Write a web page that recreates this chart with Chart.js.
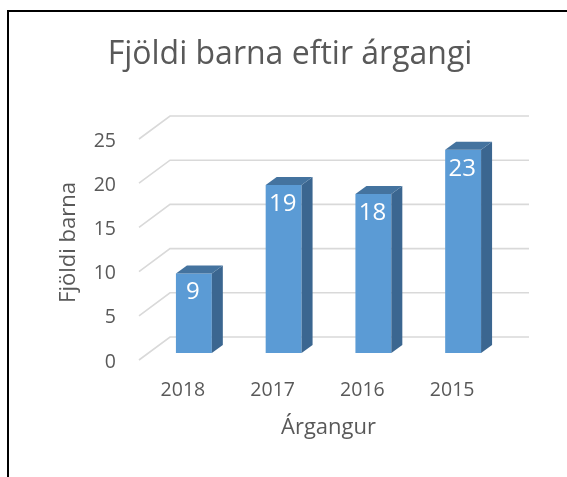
<!DOCTYPE html>
<html>
<head>
<meta charset="utf-8">
<script src="https://cdn.jsdelivr.net/npm/chart.js@4"></script>
<style>
  html, body { margin: 0; padding: 0; background: #fff; }
  #wrap { position: relative; width: 567px; height: 477px; overflow: hidden; }
  #frame { position: absolute; left: 7px; top: 10px; right: -10px; bottom: -10px;
           border-left: 2px solid #000; border-top: 2px solid #000; pointer-events: none; }
</style>
</head>
<body>
<div id="wrap">
  <canvas id="barChart" width="567" height="477"></canvas>
  <div id="frame"></div>
</div>
<script>
const years = ['2018', '2017', '2016', '2015'];
const children = [9, 19, 18, 23];
const yTicks = [0, 5, 10, 15, 20, 25];

const grey = '#595959';
const fontFamily = "'Open Sans', sans-serif";

// depth of the fake 3d boxes
const depthX = 11;
const depthY = 8;

// back wall gridlines + slanted side lines
const gridPlugin = {
  id: 'grid3d',
  beforeDatasetsDraw(chart) {
    const ctx = chart.ctx;
    const y = chart.scales.y;
    ctx.save();
    ctx.strokeStyle = '#d9d9d9';
    ctx.lineWidth = 1.6;
    yTicks.forEach(v => {
      const py = y.getPixelForValue(v);
      ctx.beginPath();
      ctx.moveTo(139, py + 7);
      ctx.lineTo(170, py - 16);
      ctx.lineTo(529, py - 16);
      ctx.stroke();
    });
    ctx.restore();
  }
};

// side + top faces and the value labels
const boxPlugin = {
  id: 'box3d',
  afterDatasetsDraw(chart) {
    const ctx = chart.ctx;
    const meta = chart.getDatasetMeta(0);
    ctx.save();
    meta.data.forEach((bar, i) => {
      const {x, y, base, width} = bar.getProps(['x', 'y', 'base', 'width'], true);
      const left = x - width / 2;
      const right = x + width / 2;

      ctx.fillStyle = '#3b6690';
      ctx.beginPath();
      ctx.moveTo(right, y);
      ctx.lineTo(right + depthX, y - depthY);
      ctx.lineTo(right + depthX, base - depthY);
      ctx.lineTo(right, base);
      ctx.closePath();
      ctx.fill();

      ctx.fillStyle = '#44739f';
      ctx.beginPath();
      ctx.moveTo(left, y);
      ctx.lineTo(left + depthX, y - depthY);
      ctx.lineTo(right + depthX, y - depthY);
      ctx.lineTo(right, y);
      ctx.closePath();
      ctx.fill();

      ctx.fillStyle = '#ffffff';
      ctx.font = '24px ' + fontFamily;
      ctx.textAlign = 'center';
      ctx.textBaseline = 'middle';
      ctx.fillText(String(children[i]), x - 1, y + 19);
    });
    ctx.restore();
  }
};

new Chart(document.getElementById('barChart'), {
  type: 'bar',
  data: {
    labels: years,
    datasets: [{
      label: 'Fjöldi barna',
      data: children,
      backgroundColor: '#5b9bd5',
      borderWidth: 0,
      categoryPercentage: 1,
      barPercentage: 0.4
    }]
  },
  options: {
    responsive: false,
    animation: false,
    layout: {
      padding: { left: 72, right: 59, top: 0, bottom: 0 }
    },
    plugins: {
      legend: { display: false },
      tooltip: { enabled: false },
      title: {
        display: true,
        text: 'Fjöldi barna eftir árgangi',
        color: grey,
        font: { family: fontFamily, size: 32, weight: 'normal' },
        padding: { top: 36, bottom: 57.6 }
      }
    },
    scales: {
      x: {
        grid: { display: false, drawTicks: false },
        border: { display: false },
        ticks: {
          color: grey,
          font: { family: fontFamily, size: 19.5 },
          padding: 26,
          labelOffset: -11
        },
        title: {
          display: true,
          text: 'Árgangur',
          color: grey,
          font: { family: fontFamily, size: 22 },
          padding: { top: 0, bottom: 36 }
        },
        afterFit(scale) { scale.height = 124; }
      },
      y: {
        min: 0,
        max: 25,
        grid: { display: false, drawTicks: false },
        border: { display: false },
        ticks: {
          stepSize: 5,
          color: grey,
          font: { family: fontFamily, size: 19.5 },
          padding: 33,
          labelOffset: 9
        },
        title: {
          display: true,
          text: 'Fjöldi barna',
          color: grey,
          font: { family: fontFamily, size: 22 },
          padding: { top: -16.7, bottom: 0 }
        },
        afterFit(scale) { scale.width = 77; }
      }
    }
  },
  plugins: [gridPlugin, boxPlugin]
});
</script>
</body>
</html>
